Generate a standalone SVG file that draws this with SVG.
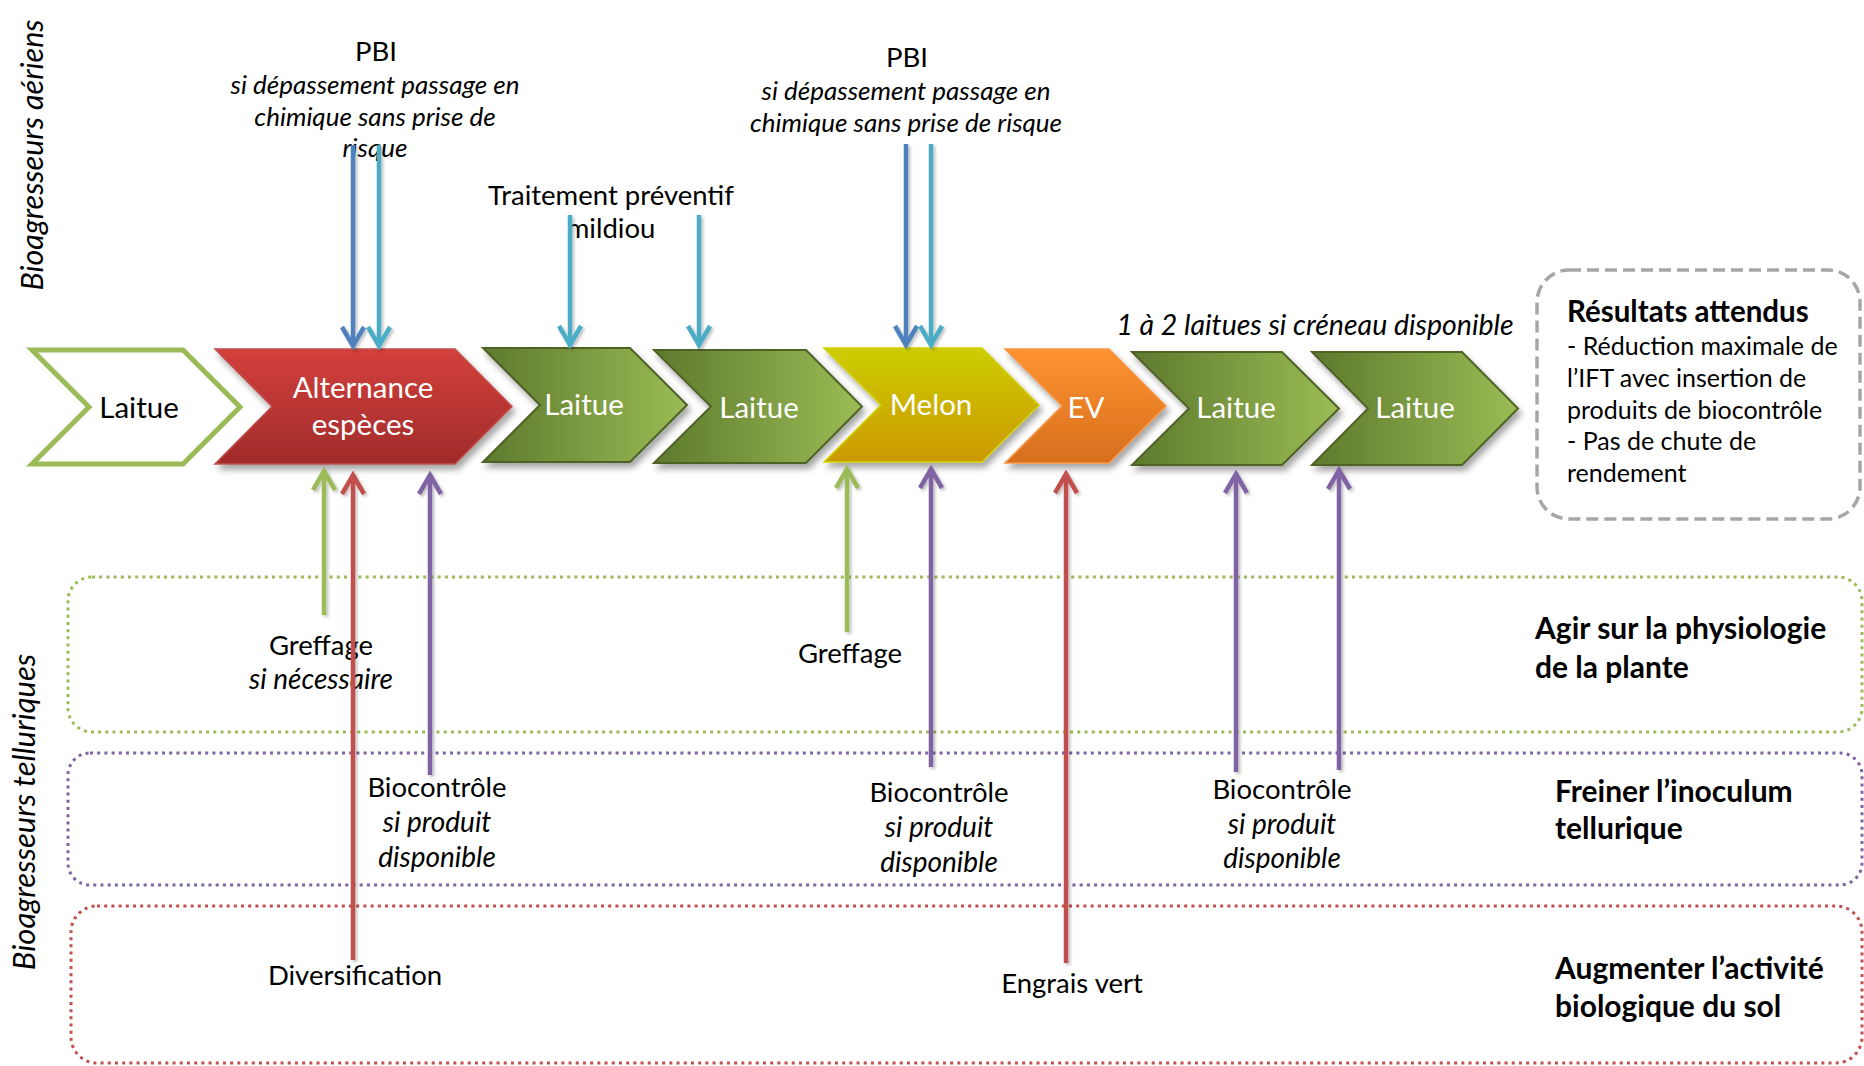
<svg xmlns="http://www.w3.org/2000/svg" width="1864" height="1066" viewBox="0 0 1864 1066">
<style>
text{font-family:Lato,"Liberation Sans",sans-serif;fill:#000}
.chev{font-size:29.5px;fill:#fff;text-anchor:middle}
.lab{font-size:27.5px;text-anchor:middle}
.it{font-style:italic;font-size:28px}
.top{font-size:26px}
.goal{font-size:30px;font-weight:bold}
.res{font-size:25px}
.arr{fill:none;stroke-width:4.5}
.dot{fill:none;stroke-width:3;stroke-dasharray:3 4.2}
</style>
<defs>
<linearGradient id="gRed" x1="0" y1="0" x2="0" y2="1"><stop offset="0" stop-color="#D3403C"/><stop offset="1" stop-color="#A02B2A"/></linearGradient>
<linearGradient id="gGreen" x1="0" y1="0" x2="1" y2="0"><stop offset="0" stop-color="#5E792D"/><stop offset="1" stop-color="#9BBC55"/></linearGradient>
<linearGradient id="gMelon" x1="0" y1="0" x2="0" y2="1"><stop offset="0" stop-color="#CDCD00"/><stop offset="1" stop-color="#CB9800"/></linearGradient>
<linearGradient id="gEV" x1="0" y1="0" x2="0" y2="1"><stop offset="0" stop-color="#FF9430"/><stop offset="1" stop-color="#D66E1E"/></linearGradient>
<filter id="sh" x="-10%" y="-10%" width="125%" height="140%"><feDropShadow dx="3" dy="5" stdDeviation="3" flood-color="#000" flood-opacity="0.35"/></filter>
<filter id="ash" x="-50%" y="-5%" width="200%" height="110%"><feDropShadow dx="2" dy="2" stdDeviation="1.5" flood-color="#000" flood-opacity="0.25"/></filter>
<marker id="mBlue" markerUnits="userSpaceOnUse" viewBox="-24 -14 28 28" refX="0" refY="0" markerWidth="28" markerHeight="28" orient="auto"><path d="M-19,-11 L0,0 L-19,11" fill="none" stroke="#4F81BD" stroke-width="4.5"/></marker>
<marker id="mCyan" markerUnits="userSpaceOnUse" viewBox="-24 -14 28 28" refX="0" refY="0" markerWidth="28" markerHeight="28" orient="auto"><path d="M-19,-11 L0,0 L-19,11" fill="none" stroke="#4BACC6" stroke-width="4.5"/></marker>
<marker id="mGreen" markerUnits="userSpaceOnUse" viewBox="-24 -14 28 28" refX="0" refY="0" markerWidth="28" markerHeight="28" orient="auto"><path d="M-19,-11 L0,0 L-19,11" fill="none" stroke="#9BBB59" stroke-width="4.5"/></marker>
<marker id="mRed" markerUnits="userSpaceOnUse" viewBox="-24 -14 28 28" refX="0" refY="0" markerWidth="28" markerHeight="28" orient="auto"><path d="M-19,-11 L0,0 L-19,11" fill="none" stroke="#C0504D" stroke-width="4.5"/></marker>
<marker id="mPurple" markerUnits="userSpaceOnUse" viewBox="-24 -14 28 28" refX="0" refY="0" markerWidth="28" markerHeight="28" orient="auto"><path d="M-19,-11 L0,0 L-19,11" fill="none" stroke="#8064A2" stroke-width="4.5"/></marker>
</defs>
<rect width="1864" height="1066" fill="#fff"/>

<!-- side labels -->
<g id="side-aeriens"><text font-style="italic" font-size="30.5" text-anchor="middle" transform="translate(43,155) rotate(-90)">Bioagresseurs aériens</text></g>
<g id="side-telluriques"><text font-style="italic" font-size="31" text-anchor="middle" transform="translate(35,812) rotate(-90)">Bioagresseurs telluriques</text></g>

<!-- zones -->
<g id="zone-physiologie">
<rect class="dot" x="68" y="577" width="1794" height="155" rx="24" stroke="#9BBB59"/>
<text class="goal" x="1535" y="639">Agir sur la physiologie</text>
<text class="goal" x="1535" y="678">de la plante</text>
</g>
<g id="zone-inoculum">
<rect class="dot" x="68" y="753" width="1794" height="132" rx="22" stroke="#8064A2"/>
<text class="goal" x="1555" y="802">Freiner l’inoculum</text>
<text class="goal" x="1555" y="839">tellurique</text>
</g>
<g id="zone-sol">
<rect class="dot" x="71" y="906" width="1791" height="157" rx="26" stroke="#C0504D"/>
<text class="goal" x="1555" y="979">Augmenter l’activité</text>
<text class="goal" x="1555" y="1017">biologique du sol</text>
</g>

<!-- results -->
<g id="resultats">
<rect x="1537" y="270" width="323" height="249" rx="32" fill="none" stroke="#A6A6A6" stroke-width="3.5" stroke-dasharray="12 6"/>
<text x="1567" y="322" font-size="29.5" font-weight="bold">Résultats attendus</text>
<text class="res" x="1567" y="355">- Réduction maximale de</text>
<text class="res" x="1567" y="387">l’IFT avec insertion de</text>
<text class="res" x="1567" y="419">produits de biocontrôle</text>
<text class="res" x="1567" y="450">- Pas de chute de</text>
<text class="res" x="1567" y="482">rendement</text>
</g>

<!-- top labels -->
<g id="lbl-pbi1">
<text class="lab" x="376" y="61">PBI</text>
<text class="lab it top" x="375" y="94">si dépassement passage en</text>
<text class="lab it top" x="375" y="126">chimique sans prise de</text>
<text class="lab it top" x="375" y="157">risque</text>
</g>
<g id="lbl-mildiou">
<text class="lab" x="611" y="205">Traitement préventif</text>
<text class="lab" x="611" y="238">mildiou</text>
</g>
<g id="lbl-pbi2">
<text class="lab" x="907" y="67">PBI</text>
<text class="lab it top" x="906" y="100">si dépassement passage en</text>
<text class="lab it top" x="906" y="132">chimique sans prise de risque</text>
</g>
<g id="lbl-creneau"><text class="lab it" x="1315" y="335" style="font-size:28.5px">1 à 2 laitues si créneau disponible</text></g>

<!-- bottom labels -->
<g id="lbl-greffage1">
<text class="lab" x="321" y="655">Greffage</text>
<text class="lab it" x="321" y="689">si nécessaire</text>
</g>
<g id="lbl-bio1">
<text class="lab" x="437" y="797">Biocontrôle</text>
<text class="lab it" x="437" y="832">si produit</text>
<text class="lab it" x="437" y="867">disponible</text>
</g>
<g id="lbl-diversification"><text class="lab" x="355" y="985">Diversification</text></g>
<g id="lbl-greffage2"><text class="lab" x="850" y="663">Greffage</text></g>
<g id="lbl-bio2">
<text class="lab" x="939" y="802">Biocontrôle</text>
<text class="lab it" x="939" y="837">si produit</text>
<text class="lab it" x="939" y="872">disponible</text>
</g>
<g id="lbl-engrais"><text class="lab" x="1072" y="993">Engrais vert</text></g>
<g id="lbl-bio3">
<text class="lab" x="1282" y="799">Biocontrôle</text>
<text class="lab it" x="1282" y="834">si produit</text>
<text class="lab it" x="1282" y="868">disponible</text>
</g>

<!-- chevrons -->
<g id="c1-laitue">
<polygon points="32,350 183,350 240,407 183,464 32,464 89,407" fill="#fff" stroke="#9BBB59" stroke-width="5"/>
<text class="chev" x="139" y="418" style="fill:#000">Laitue</text>
</g>
<g id="c2-alternance">
<polygon points="215,349 455,349 512,406.5 455,464 215,464 272,406.5" fill="url(#gRed)" stroke="#C0504D" stroke-width="1.5" filter="url(#sh)"/>
<text class="chev" x="363" y="398">Alternance</text>
<text class="chev" x="363" y="435">espèces</text>
</g>
<g id="c3-laitue">
<polygon points="483,348 630,348 687,405 630,462 483,462 540,405" fill="url(#gGreen)" stroke="#4F6228" stroke-width="2" filter="url(#sh)"/>
<text class="chev" x="584" y="415">Laitue</text>
</g>
<g id="c4-laitue">
<polygon points="654,350 806,350 862,406.5 806,463 654,463 711,406.5" fill="url(#gGreen)" stroke="#4F6228" stroke-width="2" filter="url(#sh)"/>
<text class="chev" x="759" y="418">Laitue</text>
</g>
<g id="c5-melon">
<polygon points="824,348 982,348 1039,405 982,462 824,462 881,405" fill="url(#gMelon)" stroke="#D2D200" stroke-width="1.5" filter="url(#sh)"/>
<text class="chev" x="931" y="415">Melon</text>
</g>
<g id="c6-ev">
<polygon points="1005,349 1109,349 1166,406 1109,463 1005,463 1062,406" fill="url(#gEV)" stroke="#F79646" stroke-width="1.5" filter="url(#sh)"/>
<text class="chev" x="1086" y="418">EV</text>
</g>
<g id="c7-laitue">
<polygon points="1132,352 1282,352 1339,408.5 1282,465 1132,465 1189,408.5" fill="url(#gGreen)" stroke="#4F6228" stroke-width="2" filter="url(#sh)"/>
<text class="chev" x="1236" y="418">Laitue</text>
</g>
<g id="c8-laitue">
<polygon points="1312,352 1462,352 1518,408.5 1462,465 1312,465 1368,408.5" fill="url(#gGreen)" stroke="#4F6228" stroke-width="2" filter="url(#sh)"/>
<text class="chev" x="1415" y="418">Laitue</text>
</g>

<!-- connectors -->
<g id="connectors" filter="url(#ash)">
<path class="arr" d="M353,145 V346" stroke="#4F81BD" marker-end="url(#mBlue)"/>
<path class="arr" d="M379,145 V346" stroke="#4BACC6" marker-end="url(#mCyan)"/>
<path class="arr" d="M570,215 V345" stroke="#4BACC6" marker-end="url(#mCyan)"/>
<path class="arr" d="M699,215 V345" stroke="#4BACC6" marker-end="url(#mCyan)"/>
<path class="arr" d="M906,144 V345" stroke="#4F81BD" marker-end="url(#mBlue)"/>
<path class="arr" d="M931,144 V345" stroke="#4BACC6" marker-end="url(#mCyan)"/>
<path class="arr" d="M324,615 V471" stroke="#9BBB59" marker-end="url(#mGreen)"/>
<path class="arr" d="M353,960 V475" stroke="#C0504D" marker-end="url(#mRed)"/>
<path class="arr" d="M430,775 V475" stroke="#8064A2" marker-end="url(#mPurple)"/>
<path class="arr" d="M847,632 V469" stroke="#9BBB59" marker-end="url(#mGreen)"/>
<path class="arr" d="M931,767 V469" stroke="#8064A2" marker-end="url(#mPurple)"/>
<path class="arr" d="M1066,963 V474" stroke="#C0504D" marker-end="url(#mRed)"/>
<path class="arr" d="M1236,772 V474" stroke="#8064A2" marker-end="url(#mPurple)"/>
<path class="arr" d="M1339,770 V470" stroke="#8064A2" marker-end="url(#mPurple)"/>
</g>
</svg>
